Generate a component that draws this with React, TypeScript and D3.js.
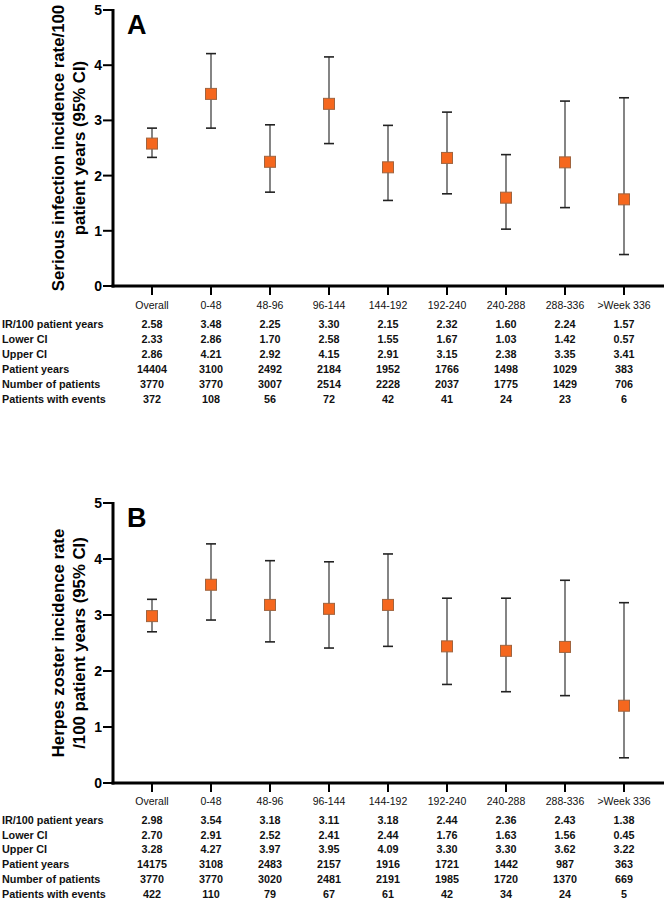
import React from "react";
import * as d3 from "d3";

const categories = ["Overall", "0-48", "48-96", "96-144", "144-192", "192-240", "240-288", "288-336", ">Week 336"];
const yTicks = [0, 1, 2, 3, 4, 5];

const irA = [2.58, 3.48, 2.25, 3.30, 2.15, 2.32, 1.60, 2.24, 1.57];
const lowerA = [2.33, 2.86, 1.70, 2.58, 1.55, 1.67, 1.03, 1.42, 0.57];
const upperA = [2.86, 4.21, 2.92, 4.15, 2.91, 3.15, 2.38, 3.35, 3.41];
const pyA = ["14404", "3100", "2492", "2184", "1952", "1766", "1498", "1029", "383"];
const nA = ["3770", "3770", "3007", "2514", "2228", "2037", "1775", "1429", "706"];
const evA = ["372", "108", "56", "72", "42", "41", "24", "23", "6"];

const irB = [2.98, 3.54, 3.18, 3.11, 3.18, 2.44, 2.36, 2.43, 1.38];
const lowerB = [2.70, 2.91, 2.52, 2.41, 2.44, 1.76, 1.63, 1.56, 0.45];
const upperB = [3.28, 4.27, 3.97, 3.95, 4.09, 3.30, 3.30, 3.62, 3.22];
const pyB = ["14175", "3108", "2483", "2157", "1916", "1721", "1442", "987", "363"];
const nB = ["3770", "3770", "3020", "2481", "2191", "1985", "1720", "1370", "669"];
const evB = ["422", "110", "79", "67", "61", "42", "34", "24", "5"];

const rowLabels = ["IR/100 patient years", "Lower CI", "Upper CI", "Patient years", "Number of patients", "Patients with events"];

const fmt = d3.format(".2f");
const SANS = "Liberation Sans, Arial, sans-serif";

type PanelProps = {
  letter: string;
  top: number;
  bottom: number;
  titleLines: string[];
  ir: number[];
  lower: number[];
  upper: number[];
  py: string[];
  n: string[];
  ev: string[];
  rowY0: number;
  rowStep: number;
  catY: number;
};

const Panel = (p: PanelProps) => {
  const x = d3.scalePoint<string>().domain(categories).range([152, 624]);
  const y = d3.scaleLinear().domain([0, 5]).range([p.bottom, p.top]);
  const axisX = 113;
  const midY = (p.top + p.bottom) / 2;
  const rows = [p.ir.map(fmt), p.lower.map(fmt), p.upper.map(fmt), p.py, p.n, p.ev];
  const cap = 5;
  const sq = 11;
  return (
    <g>
      {/* Y axis */}
      <line x1={axisX} x2={axisX} y1={p.top - 1} y2={p.bottom + 1.5} stroke="#000" strokeWidth={3} />
      {yTicks.map((t) => (
        <g key={t}>
          <line x1={axisX - 10} x2={axisX} y1={y(t)} y2={y(t)} stroke="#000" strokeWidth={2} />
          <text x={axisX - 11} y={y(t)} dy="0.36em" textAnchor="end" fontFamily={SANS} fontWeight="bold" fontSize={14}>{t}</text>
        </g>
      ))}
      {/* X axis */}
      <line x1={axisX - 1.5} x2={664} y1={p.bottom} y2={p.bottom} stroke="#000" strokeWidth={3} />
      {categories.map((c) => (
        <g key={c}>
          <line x1={x(c)} x2={x(c)} y1={p.bottom} y2={p.bottom + 9} stroke="#000" strokeWidth={2} />
          <text x={x(c)} y={p.catY} dy="0.36em" textAnchor="middle" fontFamily={SANS} fontSize={10.5} fill="#111">{c}</text>
        </g>
      ))}
      {/* Title */}
      <text
        transform={`translate(${58},${midY}) rotate(-90)`}
        textAnchor="middle"
        dy="0.36em"
        fontFamily={SANS}
        fontWeight="bold"
        fontSize={16.8}
      >
        {p.titleLines[0]}
      </text>
      <text
        transform={`translate(${79},${midY}) rotate(-90)`}
        textAnchor="middle"
        dy="0.36em"
        fontFamily={SANS}
        fontWeight="bold"
        fontSize={16.8}
      >
        {p.titleLines[1]}
      </text>
      <text x={127} y={p.top + 24} fontFamily={SANS} fontWeight="bold" fontSize={27}>{p.letter}</text>
      {/* Error bars and points */}
      {categories.map((c, i) => {
        const cx = x(c)!;
        return (
          <g key={c}>
            <line x1={cx} x2={cx} y1={y(p.lower[i])} y2={y(p.upper[i])} stroke="#666" strokeWidth={1.6} />
            <line x1={cx - cap} x2={cx + cap} y1={y(p.lower[i])} y2={y(p.lower[i])} stroke="#222" strokeWidth={1.6} />
            <line x1={cx - cap} x2={cx + cap} y1={y(p.upper[i])} y2={y(p.upper[i])} stroke="#222" strokeWidth={1.6} />
            <rect x={cx - sq / 2} y={y(p.ir[i]) - sq / 2} width={sq} height={sq} fill="#F5671E" stroke="#a0643f" strokeWidth={1} />
          </g>
        );
      })}
      {/* Table */}
      {rowLabels.map((lab, r) => (
        <g key={lab}>
          <text x={2} y={p.rowY0 + r * p.rowStep} dy="0.36em" fontFamily={SANS} fontWeight="bold" fontSize={10.8} fill="#111">{lab}</text>
          {categories.map((c, i) => (
            <text key={c} x={x(c)} y={p.rowY0 + r * p.rowStep} dy="0.36em" textAnchor="middle" fontFamily={SANS} fontWeight="bold" fontSize={10.8} fill="#111">{rows[r][i]}</text>
          ))}
        </g>
      ))}
    </g>
  );
};

export default function App() {
  return (
    <svg width={672} height={900} style={{ position: "absolute", left: 0, top: 0, background: "#fff" }}>
      <rect width={672} height={900} fill="#fff" />
      <Panel
        letter="A"
        top={10}
        bottom={286}
        titleLines={["Serious infection incidence rate/100", "patient years (95% CI)"]}
        ir={irA}
        lower={lowerA}
        upper={upperA}
        py={pyA}
        n={nA}
        ev={evA}
        rowY0={324}
        rowStep={15}
        catY={305}
      />
      <Panel
        letter="B"
        top={503}
        bottom={783}
        titleLines={["Herpes zoster incidence rate", "/100 patient years (95% CI)"]}
        ir={irB}
        lower={lowerB}
        upper={upperB}
        py={pyB}
        n={nB}
        ev={evB}
        rowY0={820}
        rowStep={14.8}
        catY={801}
      />
    </svg>
  );
}
